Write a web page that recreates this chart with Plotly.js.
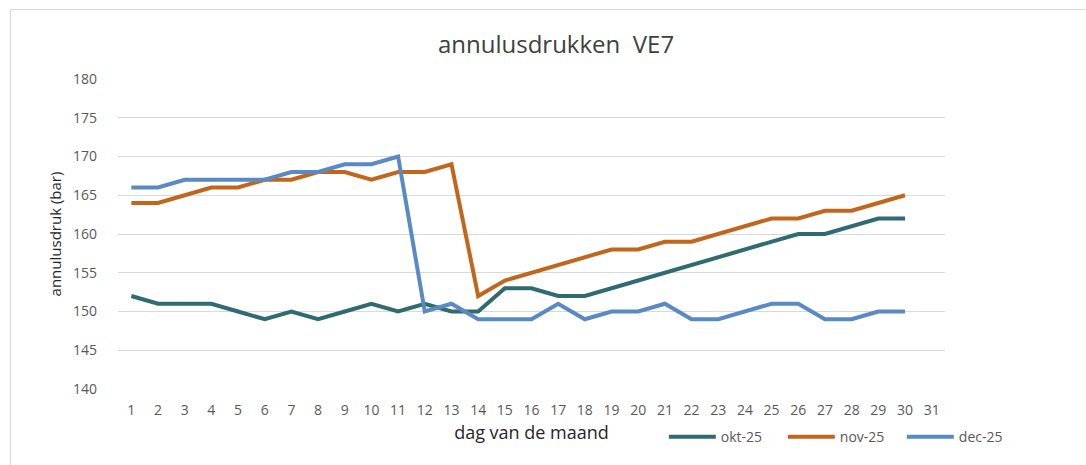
<!DOCTYPE html>
<html>
<head>
<meta charset="utf-8">
<script src="https://cdn.plot.ly/plotly-3.0.1.min.js"></script>
<style>
  html, body { margin: 0; padding: 0; background: #fff; overflow: hidden; }
  #wrap { position: relative; width: 1086px; height: 465px; }
  #chart { position: absolute; left: 0; top: 0; width: 1086px; height: 465px; }
  #frame { position: absolute; left: 10px; top: 9px; width: 1090px; height: 470px;
           border: 1px solid #d9d9d9; pointer-events: none; }
</style>
</head>
<body>
<div id="wrap">
  <div id="chart"></div>
  <div id="frame"></div>
</div>
<script>
const days = [1,2,3,4,5,6,7,8,9,10,11,12,13,14,15,16,17,18,19,20,21,22,23,24,25,26,27,28,29,30];
const tickDays = [1,2,3,4,5,6,7,8,9,10,11,12,13,14,15,16,17,18,19,20,21,22,23,24,25,26,27,28,29,30,31];
const okt25 = [152,151,151,151,150,149,150,149,150,151,150,151,150,150,153,153,152,152,153,154,155,156,157,158,159,160,160,161,162,162];
const nov25 = [164,164,165,166,166,167,167,168,168,167,168,168,169,152,154,155,156,157,158,158,159,159,160,161,162,162,163,163,164,165];
const dec25 = [166,166,167,167,167,167,168,168,169,169,170,150,151,149,149,149,151,149,150,150,151,149,149,150,151,151,149,149,150,150];
const seriesNames = ['okt-25','nov-25','dec-25'];
const seriesColors = ['#2f6b70','#c2661c','#5a8ac3'];

const font = '"Open Sans", "Liberation Sans", Arial, sans-serif';
const traces = [okt25, nov25, dec25].map((vals, i) => ({
  x: days, y: vals, type: 'scatter', mode: 'lines', name: seriesNames[i],
  line: {color: seriesColors[i], width: 4}
}));

const layout = {
  width: 1086, height: 465,
  margin: {l: 118, r: 141, t: 79, b: 76, autoexpand: false},
  paper_bgcolor: 'rgba(0,0,0,0)', plot_bgcolor: '#fff',
  title: {text: 'annulusdrukken  VE7', x: 0.512, xanchor: 'center', y: 0.905, yanchor: 'middle',
          font: {family: font, size: 24, color: '#404040'}},
  xaxis: {
    range: [0.5, 31.5], tickvals: tickDays, ticktext: tickDays.map(String),
    showgrid: false, zeroline: false, showline: false, ticks: '',
    tickfont: {family: font, size: 14, color: '#595959'},
    ticklabelstandoff: 11,
    title: {text: 'dag van de maand', standoff: 8, font: {family: font, size: 18, color: '#262626'}}
  },
  yaxis: {
    range: [140, 180], dtick: 5, tick0: 140,
    showgrid: true, gridcolor: '#d9d9d9', gridwidth: 1, zeroline: false, showline: false, ticks: '',
    tickfont: {family: font, size: 14, color: '#595959'},
    ticklabelstandoff: 20,
    title: {text: 'annulusdruk (bar)', standoff: 7, font: {family: font, size: 15, color: '#262626'}}
  },
  showlegend: true,
  legend: {orientation: 'h', x: 0.66, xanchor: 'left', y: -0.155, yanchor: 'middle',
           font: {family: font, size: 14, color: '#595959'}, entrywidth: 57, entrywidthmode: 'pixels',
           itemwidth: 47, bgcolor: 'rgba(0,0,0,0)'}
};
Plotly.newPlot('chart', traces, layout, {displayModeBar: false, staticPlot: true});
</script>
</body>
</html>
